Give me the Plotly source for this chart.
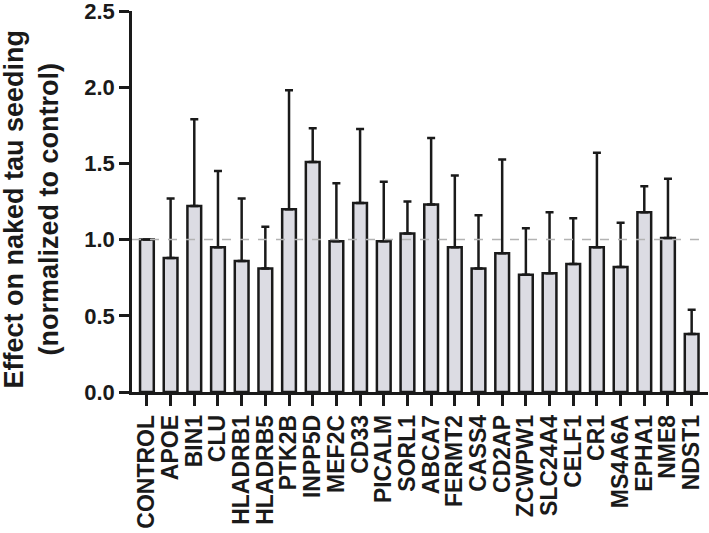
import plotly.graph_objects as go

categories = ["CONTROL", "APOE", "BIN1", "CLU", "HLADRB1", "HLADRB5", "PTK2B", "INPP5D",
              "MEF2C", "CD33", "PICALM", "SORL1", "ABCA7", "FERMT2", "CASS4", "CD2AP",
              "ZCWPW1", "SLC24A4", "CELF1", "CR1", "MS4A6A", "EPHA1", "NME8", "NDST1"]
means = [1.00, 0.88, 1.22, 0.95, 0.86, 0.81, 1.20, 1.51,
         0.99, 1.24, 0.99, 1.04, 1.23, 0.95, 0.81, 0.91,
         0.77, 0.78, 0.84, 0.95, 0.82, 1.18, 1.01, 0.38]
upper = [None, 1.27, 1.79, 1.45, 1.27, 1.085, 1.98, 1.73,
         1.37, 1.725, 1.38, 1.25, 1.667, 1.42, 1.16, 1.525,
         1.075, 1.18, 1.14, 1.57, 1.11, 1.35, 1.40, 0.54]
err_plus = [None if u is None else round(u - m, 3) for u, m in zip(upper, means)]
y_ticks = [0, 0.5, 1.0, 1.5, 2.0, 2.5]
reference_level = 1.0
y_title = "Effect on naked tau seeding<br>(normalized to control)"

ink = "#1a1a1a"
font_family = "Liberation Sans, Arial, sans-serif"

fig = go.Figure()
fig.add_trace(go.Bar(
    x=list(range(len(categories))),
    y=means,
    width=0.58,
    marker=dict(color="#dcdce3", line=dict(color=ink, width=2.5)),
    error_y=dict(type="data", symmetric=False, array=err_plus,
                 arrayminus=[0] * len(means), color=ink, thickness=2.5, width=4),
    showlegend=False,
))

fig.add_shape(type="line", xref="paper", x0=0.0, x1=0.985, yref="y",
              y0=reference_level, y1=reference_level,
              line=dict(color="#b3b3b3", width=1.5, dash="dash"), layer="above")

fig.add_annotation(text=y_title, xref="paper", yref="paper", x=0, y=0.5,
                   xshift=-101, yshift=-8, xanchor="center", yanchor="middle",
                   textangle=-90, showarrow=False, align="center",
                   font=dict(family=font_family, size=27, color=ink, weight="bold"))

fig.update_layout(
    width=709, height=533,
    margin=dict(l=132, r=1, t=11, b=141, autoexpand=False),
    plot_bgcolor="white", paper_bgcolor="white",
    font=dict(family=font_family, color=ink, size=23),
    bargap=0.4,
)
fig.update_xaxes(
    automargin=False,
    range=[-0.63, len(categories) - 1 + 0.69],
    tickmode="array", tickvals=list(range(len(categories))), ticktext=categories,
    tickangle=-90, ticks="outside", ticklen=11, tickwidth=2.5, tickcolor=ink,
    showline=True, linecolor=ink, linewidth=2.5, showgrid=False, zeroline=False,
    ticklabeloverflow="allow",
    tickfont=dict(family=font_family, size=23, color=ink, weight="bold"),
)
fig.update_yaxes(
    automargin=False,
    range=[0, 2.5001], tickmode="array", tickvals=y_ticks,
    ticktext=[f"{v:.1f}" for v in y_ticks],
    ticks="outside", ticklen=10, tickwidth=2.5, tickcolor=ink,
    showline=True, linecolor=ink, linewidth=2.5, showgrid=False, zeroline=False,
    ticklabeloverflow="allow",
    tickfont=dict(family=font_family, size=22, color=ink, weight="bold"),
)

fig.write_html("out.html", config={"displayModeBar": False},
               post_script="document.body.style.margin='0';document.body.style.padding='0';")
